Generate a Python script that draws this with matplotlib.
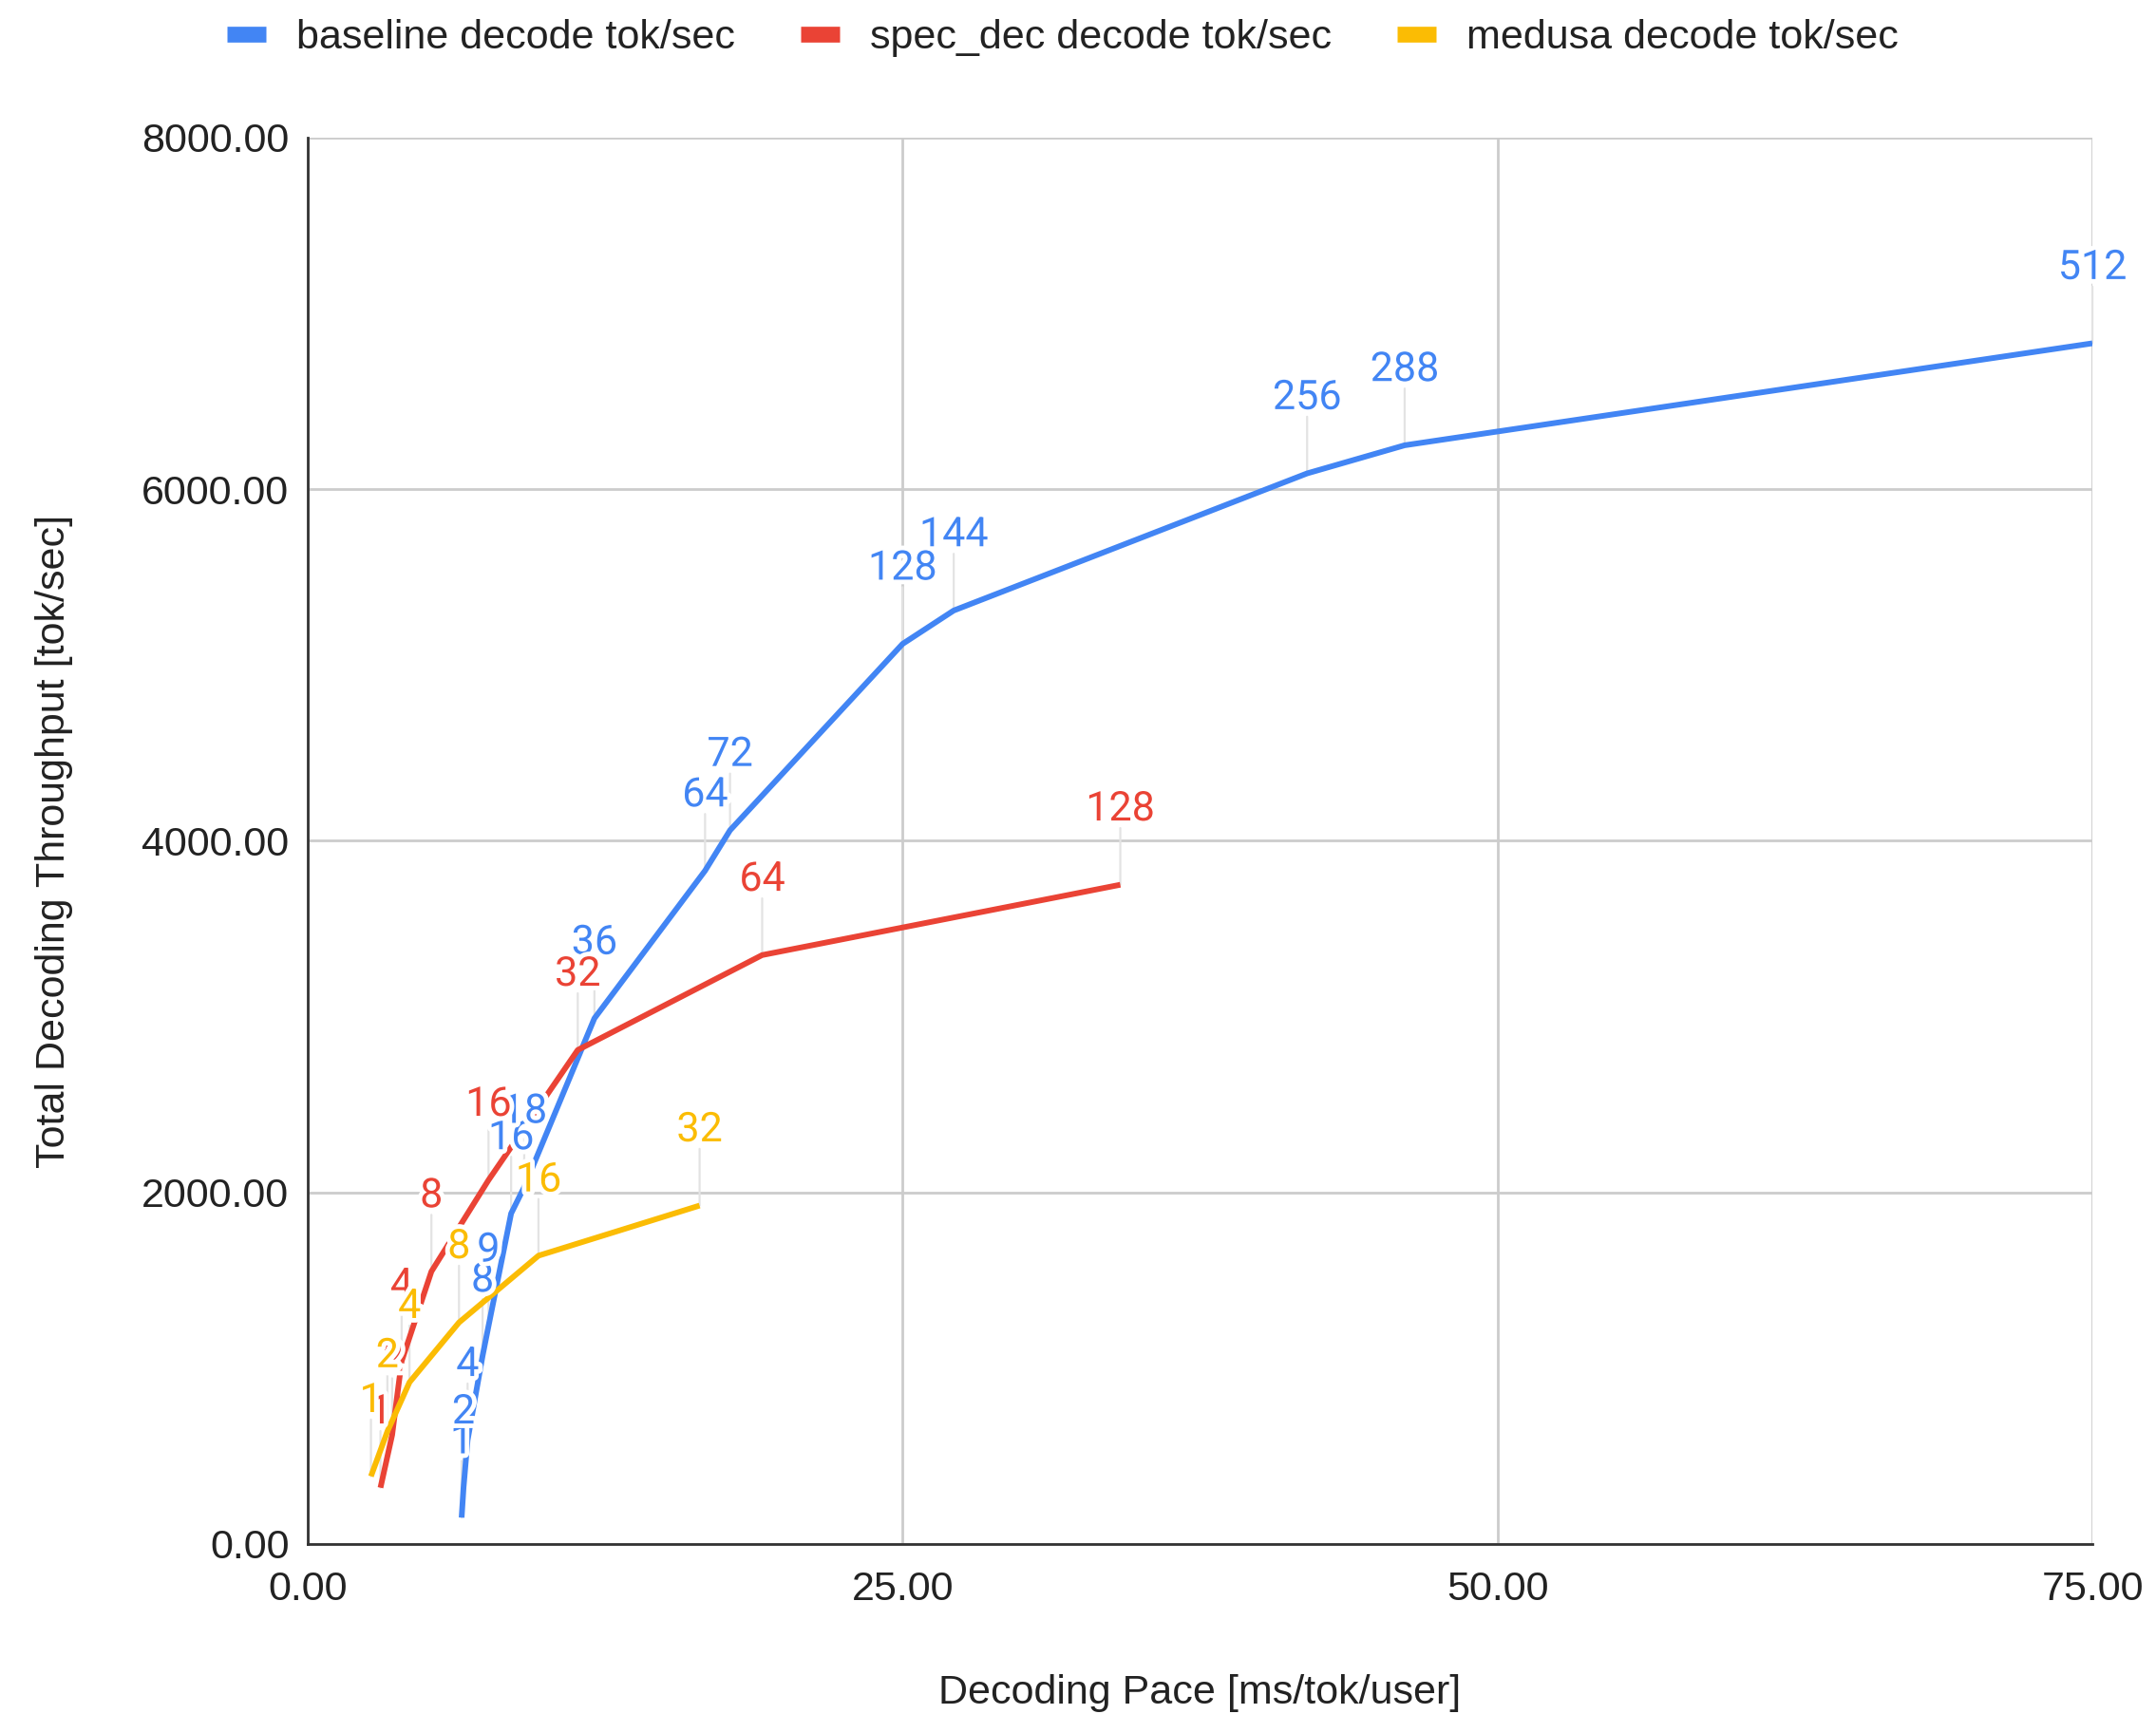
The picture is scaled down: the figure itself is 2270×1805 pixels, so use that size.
import matplotlib
matplotlib.use("Agg")
import matplotlib.pyplot as plt
from matplotlib.lines import Line2D
import matplotlib.patheffects as pe

plt.rcParams['font.family'] = ['Liberation Sans', 'DejaVu Sans']

# Decoding pace (ms/tok/user) vs. total decoding throughput (tok/sec), per batch size
baseline_batch = [1, 2, 4, 8, 9, 16, 18, 36, 64, 72, 128, 144, 256, 288, 512]
baseline_pace = [6.47, 6.55, 6.72, 7.35, 7.6, 8.55, 9.1, 12.05, 16.7, 17.75, 25.0, 27.15, 42.0, 46.1, 75.0]
baseline_tput = [150, 320, 590, 1070, 1240, 1880, 2030, 2990, 3830, 4060, 5120, 5310, 6090, 6250, 6830]

specdec_batch = [1, 2, 4, 8, 16, 32, 64, 128]
specdec_pace = [3.06, 3.55, 3.95, 5.2, 7.6, 11.35, 19.1, 34.15]
specdec_tput = [320, 620, 1040, 1550, 2070, 2810, 3350, 3750]

medusa_batch = [1, 2, 4, 8, 16, 32]
medusa_pace = [2.66, 3.35, 4.28, 6.36, 9.7, 16.47]
medusa_tput = [385, 640, 920, 1260, 1640, 1925]

series = [
    ("baseline decode tok/sec", baseline_pace, baseline_tput, baseline_batch, "#4285F4"),
    ("spec_dec decode tok/sec", specdec_pace, specdec_tput, specdec_batch, "#EA4335"),
    ("medusa decode tok/sec", medusa_pace, medusa_tput, medusa_batch, "#FBBC04"),
]

FS = 31
fig = plt.figure(figsize=(22.7, 18.05), dpi=100)
ax = fig.add_axes([0.1427, 0.0992, 0.9705 - 0.1427, 0.9197 - 0.0992])

ax.set_xlim(0, 75)
ax.set_ylim(0, 8000)
ax.set_xticks([0, 25, 50, 75])
ax.set_yticks([0, 2000, 4000, 6000, 8000])
ax.xaxis.set_major_formatter(matplotlib.ticker.FormatStrFormatter('%.2f'))
ax.yaxis.set_major_formatter(matplotlib.ticker.FormatStrFormatter('%.2f'))
ax.tick_params(length=0, labelsize=FS, colors='#222222')
ax.tick_params(axis='x', pad=20)
ax.tick_params(axis='y', pad=14)
ax.grid(True, color='#cccccc', lw=2, zorder=0)
ax.set_axisbelow(True)
for side in ['top', 'right']:
    ax.spines[side].set_visible(False)
for side in ['left', 'bottom']:
    ax.spines[side].set_color('#333333')
    ax.spines[side].set_linewidth(2)
    ax.spines[side].set_zorder(2)

ax.set_xlabel("Decoding Pace [ms/tok/user]", fontsize=FS, color='#222222', labelpad=50)
ax.set_ylabel("Total Decoding Throughput [tok/sec]", fontsize=FS, color='#222222', labelpad=52)

LABEL_OFF = 57  # points above each data point

# leader lines (behind everything)
for name, xs, ys, bs, col in series:
    for x, y in zip(xs, ys):
        ax.annotate('', xy=(x, y), xytext=(0, LABEL_OFF - 14), textcoords='offset points',
                    arrowprops=dict(arrowstyle='-', color='#e3e3e3', lw=1.6,
                                    shrinkA=0, shrinkB=0), zorder=1)

handles = []
for name, xs, ys, bs, col in series:
    ax.plot(xs, ys, color=col, lw=4.3, zorder=3, solid_capstyle='butt', solid_joinstyle='round')
    handles.append(Line2D([], [], color=col, lw=12, solid_capstyle='butt', label=name))

halo = [pe.withStroke(linewidth=7, foreground='white')]
for name, xs, ys, bs, col in series:
    for x, y, b in zip(xs, ys, bs):
        ax.annotate(str(b), xy=(x, y), xytext=(0, LABEL_OFF), textcoords='offset points',
                    ha='center', va='center', fontsize=FS, color=col,
                    family=['Roboto', 'DejaVu Sans'],
                    path_effects=halo, zorder=5, annotation_clip=False)

fig.legend(handles=handles, loc='center', bbox_to_anchor=(0.493, 0.978), ncol=3,
           frameon=False, fontsize=FS, handlelength=0.95, handletextpad=0.75,
           columnspacing=1.6, labelcolor='#222222')

fig.savefig("out.png", dpi=100, facecolor='white')
